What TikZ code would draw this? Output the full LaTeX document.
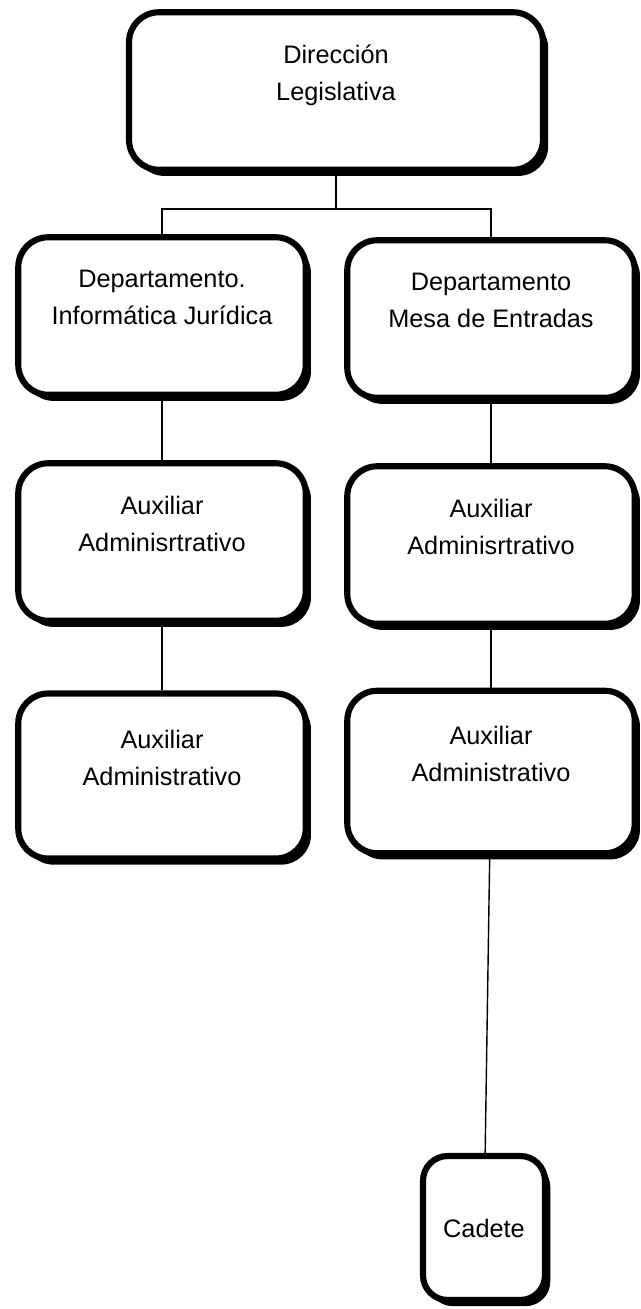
\documentclass[tikz,border=0pt]{standalone}
\usepackage{fontspec}
\setmainfont{Liberation Sans}
\usetikzlibrary{positioning, shadows}

\begin{document}
\begin{tikzpicture}[
  x=0.02cm, y=-0.02cm,
  font=\fontsize{14.4}{21}\selectfont,
  box/.style={rectangle, rounded corners=17pt, draw=black, fill=white,
              line width=3.5pt, align=center, inner sep=0pt,
              minimum width=5.75cm, minimum height=3.15cm,
              drop shadow={shadow xshift=3pt, shadow yshift=-3.5pt,
                           fill=black, opacity=1}},
  link/.style={draw=black, line width=0.8pt},
]
\useasboundingbox (0,0) rectangle (640,1309);

% ---- Direccion --------------------------------------------------------
\node[box, minimum width=8.28cm] (dir) at (336,91)
  {Dirección\\Legislativa\\\mbox{}};

% ---- Departamentos ----------------------------------------------------
\node[box] (dij) at (162,316) {Departamento.\\Informática Jurídica\\\mbox{}};
\node[box] (dme) at (491,319) {Departamento\\Mesa de Entradas\\\mbox{}};

% ---- Auxiliares -------------------------------------------------------
\node[box] (al1) at (162,542) {Auxiliar\\Adminisrtrativo\\\mbox{}};
\node[box] (ar1) at (491,545) {Auxiliar\\Adminisrtrativo\\\mbox{}};
\node[box, minimum height=3.3cm] (al2) at (162,776)
  {Auxiliar\\Administrativo\\\mbox{}};
\node[box, minimum height=3.25cm] (ar2) at (491,772)
  {Auxiliar\\Administrativo\\\mbox{}};

% ---- Cadete -----------------------------------------------------------
\node[box, minimum width=2.44cm, minimum height=2.88cm, rounded corners=14pt]
  (cad) at (484,1228) {Cadete};

% ---- Connections ------------------------------------------------------
\coordinate (bus) at ([yshift=-0.72cm]dir.south);
\draw[link] (dir.south) -- (bus);
\draw[link] (dij.north) |- (bus) -| (dme.north);
\draw[link] (dij) -- (al1);
\draw[link] (al1) -- (al2);
\draw[link] (dme) -- (ar1);
\draw[link] (ar1) -- (ar2);
\draw[link] (ar2) -- (cad);

\end{tikzpicture}
\end{document}
